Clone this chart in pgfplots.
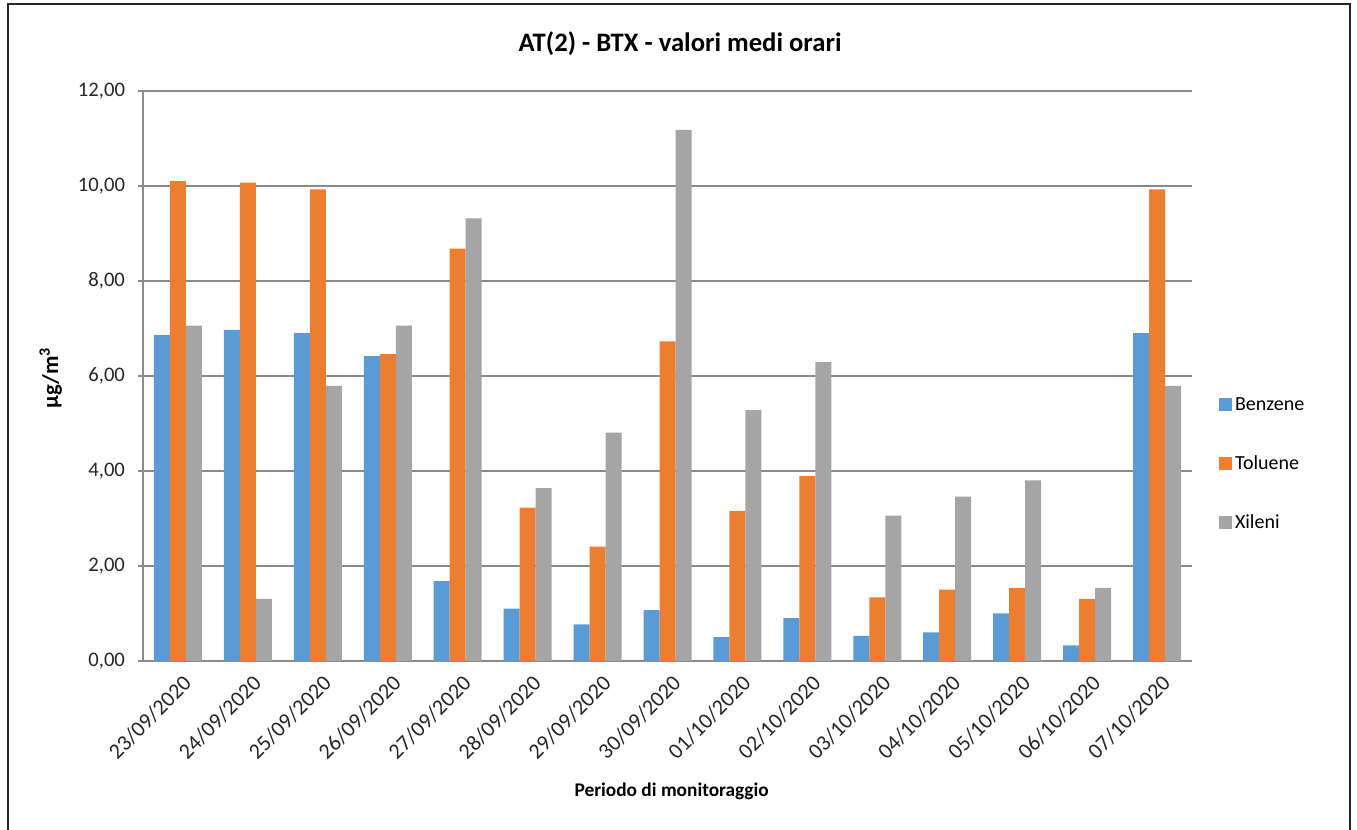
\documentclass[border=0pt]{standalone}
\usepackage{pgfplots}
\pgfplotsset{compat=1.18}
\usepackage{pgfplotstable}
\usepackage{fontspec}
\setmainfont{Carlito}

\definecolor{cBenz}{HTML}{5B9BD5}
\definecolor{cTol}{HTML}{ED7D31}
\definecolor{cXil}{HTML}{A5A5A5}
\definecolor{gridgray}{HTML}{8A8A8A}

% medie orarie, ug/m3
\pgfplotstableread{
x  benz  tol    xil
0  6.86  10.10  7.06
1  6.97  10.07  1.31
2  6.90  9.93   5.79
3  6.42  6.46   7.06
4  1.68  8.68   9.32
5  1.10  3.23   3.64
6  0.77  2.41   4.81
7  1.07  6.73   11.18
8  0.50  3.16   5.28
9  0.90  3.89   6.29
10 0.53  1.34   3.06
11 0.60  1.50   3.46
12 1.00  1.54   3.80
13 0.33  1.31   1.54
14 6.90  9.93   5.79
}\btx

\begin{document}
\begin{tikzpicture}
\useasboundingbox (-107.25pt,-126.75pt) rectangle (910.5pt,495.75pt);
\draw[line width=1.5pt, black!85] (-101.25pt,-128pt) -- (-101.25pt,492.75pt) -- (905.25pt,492.75pt) -- (905.25pt,-128pt);
\begin{axis}[
    at={(0,0)}, anchor=south west,
    scale only axis, width=786.75pt, height=427.5pt,
    ybar, ybar=0pt, bar width=12pt,
    xmin=-0.5, xmax=14.5, ymin=0, ymax=12,
    xtick={0,...,14},
    xticklabels={23/09/2020,24/09/2020,25/09/2020,26/09/2020,27/09/2020,28/09/2020,29/09/2020,30/09/2020,01/10/2020,02/10/2020,03/10/2020,04/10/2020,05/10/2020,06/10/2020,07/10/2020},
    ytick={0,2,...,12},
    axis x line*=bottom, axis y line*=left,
    axis line style={gridgray, line width=1.1pt, -},
    ymajorgrids, grid style={gridgray, line width=1.1pt},
    tick align=outside, major tick length=4pt,
    xtick style={draw=none},
    ytick style={gridgray, line width=1.1pt},
    tick label style={font=\fontsize{15.5}{18}\selectfont, text=black!85},
    yticklabel style={xshift=-6pt, /pgf/number format/fixed, /pgf/number format/fixed zerofill,
        /pgf/number format/precision=2, /pgf/number format/use comma, /pgf/number format/assume math mode=true},
    x tick label style={font=\fontsize{16.5}{19}\selectfont, rotate=45, anchor=north east, inner sep=1pt, yshift=-5pt, xshift=-1pt},
    title={AT(2) - BTX - valori medi orari},
    title style={font=\bfseries\fontsize{20}{24}\selectfont, at={(0.512,1.056)}, anchor=base},
    xlabel={Periodo di monitoraggio},
    xlabel style={font=\bfseries\fontsize{14.5}{17}\selectfont, at={(0.504,-0.237)}, anchor=base},
    ylabel={µg/m\textsuperscript{3}},
    ylabel style={font=\bfseries\fontsize{17}{20}\selectfont, at={(-0.088,0.4965)}, anchor=center},
    legend style={draw=none, fill=none, at={(1.022,0.3456)}, anchor=west,
        font=\fontsize{15}{18}\selectfont, row sep=28.5pt, cells={anchor=west}},
    legend image code/.code={\fill[#1] (0pt,-4.9pt) rectangle (9.75pt,4.9pt);},
]
\addplot[fill=cBenz, draw=none] table[x=x, y=benz] {\btx};
\addlegendentry{Benzene}
\addplot[fill=cTol, draw=none] table[x=x, y=tol] {\btx};
\addlegendentry{Toluene}
\addplot[fill=cXil, draw=none] table[x=x, y=xil] {\btx};
\addlegendentry{Xileni}
\end{axis}
\end{tikzpicture}
\end{document}
